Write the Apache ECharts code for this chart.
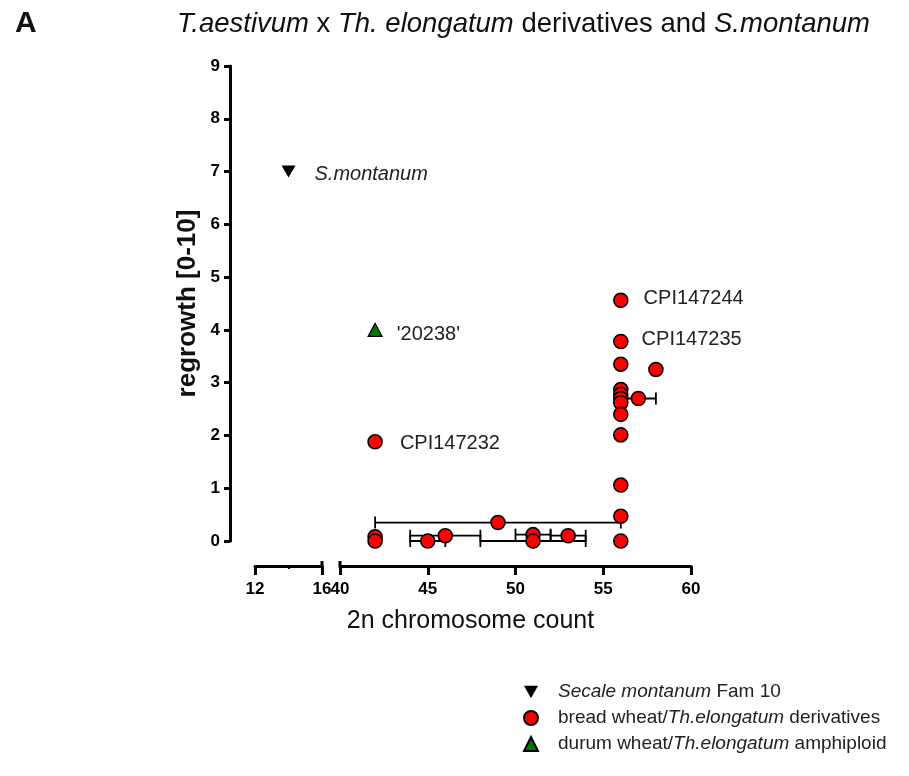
<!DOCTYPE html>
<html><head><meta charset="utf-8">
<script src="https://cdn.jsdelivr.net/npm/echarts@6/dist/echarts.min.js"></script>
<style>html,body{margin:0;padding:0;background:#fff}#c{width:909px;height:776px}</style>
</head><body><div id="c"></div>
<script>
// ---------- data ----------
const montanumX = [14];
const montanumY = [7];
const montanumNames = ['S.montanum'];

const breadX    = [42, 42, 42, 45, 46, 49, 51, 51, 53, 56, 56, 56, 56, 56, 56, 56, 56, 56, 56, 56, 56, 57, 58];
const breadY    = [1.88, 0.08, 0, 0, 0.1, 0.35, 0.12, 0, 0.1, 4.56, 3.78, 3.35, 2.87, 2.78, 2.70, 2.62, 2.40, 2.01, 1.06, 0.47, 0, 2.70, 3.25];
const breadXErr = [0, 0, 0, 1, 2, 7, 1, 3, 1, 0, 0, 0, 0, 0, 0, 0, 0, 0, 0, 0, 0, 1, 0];
const breadNames = ['CPI147232', '', '', '', '', '', '', '', '', 'CPI147244', 'CPI147235', '', '', '', '', '', '', '', '', '', '', '', ''];

const durumX = [42];
const durumY = [4];
const durumNames = ["'20238'"];

const seriesNames = ['Secale montanum Fam 10', 'bread wheat/Th.elongatum derivatives', 'durum wheat/Th.elongatum amphiploid'];
const italicParts = ['Secale montanum', 'Th.elongatum'];

const xTicksLeft = [12, 16];
const xTicksRight = [40, 45, 50, 55, 60];
const yTicks = [0, 1, 2, 3, 4, 5, 6, 7, 8, 9];
const axisBreaks = [[16], [40]];

// ---------- styling ----------
const FONT = "'Liberation Sans', Arial, sans-serif";
const TICKFONT = "'Liberation Sans', Arial, sans-serif";
const AX_OFF = 25;
const labelShift = {
  'S.montanum': [4, 3], 'CPI147244': [0, -2], 'CPI147235': [-2, -2], 'CPI147232': [2, 2], "'20238'": [-1, 5]
};

function pts(xs, ys, names, italic) {
  return xs.map((x, i) => {
    const n = names[i];
    const item = { value: [x, ys[i]] };
    if (n) {
      item.label = {
        show: true, position: 'right', distance: 15, formatter: n,
        offset: labelShift[n] || [0, 0],
        fontFamily: FONT, fontSize: 20, color: '#222',
        fontStyle: italic ? 'italic' : 'normal'
      };
    }
    return item;
  });
}

const errData = [];
breadX.forEach((x, i) => {
  if (breadXErr[i] > 0) errData.push([x - breadXErr[i], x + breadXErr[i], breadY[i]]);
});

function xAxisBase(grid, min, max, interval, ticks) {
  return {
    gridIndex: grid, type: 'value', min: min, max: max, interval: interval,
    position: 'bottom', offset: AX_OFF,
    axisLine: { show: true, onZero: false, lineStyle: { color: '#000', width: 3 } },
    axisTick: { show: true, inside: false, length: 9, lineStyle: { color: '#000', width: 3 } },
    splitLine: { show: false },
    axisLabel: {
      show: true, margin: 15, color: '#000', fontFamily: TICKFONT, fontWeight: 'bold', fontSize: 17,
      formatter: v => (ticks.indexOf(v) >= 0 ? String(v) : '')
    }
  };
}

const xLeft = xAxisBase(0, 12, 16, 4, xTicksLeft);
xLeft.minorTick = { show: true, splitNumber: 2, length: 3, lineStyle: { color: '#000', width: 2 } };
xLeft.minorSplitLine = { show: false };
const xRight = xAxisBase(1, 40, 60, 5, xTicksRight);
xRight.name = '2n chromosome count';
xRight.nameLocation = 'middle';
xRight.nameGap = 43;
xRight.nameTextStyle = { fontFamily: FONT, fontSize: 25, color: '#111', padding: [0, 90, 0, 0] };

const breakSeries = (xi, d) => ({
  type: 'custom', xAxisIndex: xi, yAxisIndex: xi, data: d, clip: false, silent: true, z: 5,
  renderItem: function (params, api) {
    const p = api.coord([api.value(0), 0]);
    return { type: 'line', shape: { x1: p[0], y1: p[1] + AX_OFF - 5, x2: p[0], y2: p[1] + AX_OFF },
      style: { stroke: '#000', lineWidth: 3 } };
  }
});

const option = {
  animation: false,
  backgroundColor: '#fff',
  title: [
    { text: 'A', left: 10, top: 4, textStyle: { fontFamily: FONT, fontWeight: 'bold', fontSize: 30, color: '#111' } },
    { text: '{i|T.aestivum} x {i|Th. elongatum} derivatives and {i|S.montanum}', left: 172, top: 5,
      textStyle: { fontFamily: FONT, fontSize: 27.5, fontWeight: 'normal', color: '#111',
        rich: { i: { fontStyle: 'italic', fontFamily: FONT, fontSize: 27.5, color: '#111' } } } }
  ],
  grid: [
    { left: 255, top: 66, width: 67, height: 475, containLabel: false, outerBoundsMode: 'none' },
    { left: 340, top: 66, width: 351, height: 475, containLabel: false, outerBoundsMode: 'none' }
  ],
  xAxis: [xLeft, xRight],
  yAxis: [
    {
      gridIndex: 0, type: 'value', min: 0, max: 9, interval: 1, offset: AX_OFF,
      axisLine: { show: true, lineStyle: { color: '#000', width: 3 } },
      axisTick: { show: true, length: 6, lineStyle: { color: '#000', width: 3 } },
      splitLine: { show: false },
      axisLabel: { margin: 10, color: '#000', fontFamily: TICKFONT, fontWeight: 'bold', fontSize: 17,
        formatter: v => (yTicks.indexOf(v) >= 0 ? String(v) : '') },
      name: 'regrowth [0-10]', nameLocation: 'middle', nameGap: 29,
      nameTextStyle: { fontFamily: FONT, fontWeight: 'bold', fontSize: 26, color: '#111' }
    },
    { gridIndex: 1, type: 'value', min: 0, max: 9, show: false, splitLine: { show: false } }
  ],
  legend: {
    data: seriesNames, orient: 'vertical', left: 518, top: 677,
    itemWidth: 14, itemHeight: 14, itemGap: 6,
    textStyle: { fontFamily: FONT, fontSize: 19, color: '#222', lineHeight: 20, padding: [0, 0, 0, 15],
      rich: { i: { fontStyle: 'italic', fontFamily: FONT, fontSize: 19, color: '#222' } } },
    formatter: function (name) {
      let s = name;
      italicParts.forEach(p => { s = s.replace(p, '{i|' + p + '}'); });
      return s;
    }
  },
  series: [
    {
      name: seriesNames[0], type: 'scatter', xAxisIndex: 0, yAxisIndex: 0,
      symbol: 'path://M0,0 L10,0 L5,9 Z', symbolSize: [14, 12],
      itemStyle: { color: '#000', borderColor: '#000', borderWidth: 0, opacity: 1 },
      data: pts(montanumX, montanumY, montanumNames, true), z: 10
    },
    breakSeries(0, [axisBreaks[0]]),
    breakSeries(1, [axisBreaks[1]]),
    {
      type: 'custom', xAxisIndex: 1, yAxisIndex: 1, data: errData, silent: true, z: 3, clip: false,
      renderItem: function (params, api) {
        const lo = api.coord([api.value(0), api.value(2)]);
        const hi = api.coord([api.value(1), api.value(2)]);
        const h = 6, st = { stroke: '#000', lineWidth: 1.8 };
        return { type: 'group', children: [
          { type: 'line', shape: { x1: lo[0], y1: lo[1], x2: hi[0], y2: hi[1] }, style: st },
          { type: 'line', shape: { x1: lo[0], y1: lo[1] - h, x2: lo[0], y2: lo[1] + h }, style: st },
          { type: 'line', shape: { x1: hi[0], y1: hi[1] - h, x2: hi[0], y2: hi[1] + h }, style: st }
        ] };
      }
    },
    {
      name: seriesNames[1], type: 'scatter', xAxisIndex: 1, yAxisIndex: 1,
      symbol: 'circle', symbolSize: 14, clip: false,
      itemStyle: { color: '#ff0000', borderColor: '#000', borderWidth: 1.6, opacity: 1 },
      data: pts(breadX, breadY, breadNames, false), z: 10
    },
    {
      name: seriesNames[2], type: 'scatter', xAxisIndex: 1, yAxisIndex: 1,
      symbol: 'triangle', symbolSize: [14, 13],
      itemStyle: { color: '#007800', borderColor: '#000', borderWidth: 1.2, opacity: 1 },
      data: pts(durumX, durumY, durumNames, false), z: 10
    }
  ]
};

const chart = echarts.init(document.getElementById('c'), null, { renderer: 'canvas' });
chart.setOption(option);
</script></body></html>
